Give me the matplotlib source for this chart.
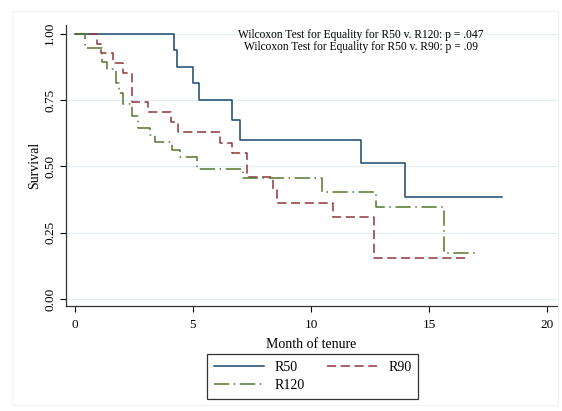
"""Kaplan-Meier survival by group (R50 / R90 / R120), Stata-like look."""
import matplotlib
matplotlib.use('Agg')
import matplotlib.pyplot as plt
from matplotlib.patches import Rectangle

# step functions: times where survival drops, and the new level
r50_t = [0, 4.21, 4.31, 5.01, 5.27, 6.65, 7.0, 12.1, 14.0, 18.09]
r50_s = [1.0, 0.9375, 0.875, 0.8125, 0.75, 0.675, 0.60, 0.514, 0.386, 0.386]

r90_t = [0, 0.92, 1.10, 1.62, 2.04, 2.40, 3.08, 4.07, 4.38, 6.14, 6.64, 7.30,
         8.40, 8.57, 10.94, 12.67, 16.70]
r90_s = [1.0, 0.963, 0.926, 0.889, 0.852, 0.741, 0.704, 0.667, 0.630, 0.589,
         0.551, 0.459, 0.41, 0.364, 0.310, 0.156, 0.156]

r120_t = [0, 0.42, 1.15, 1.35, 1.75, 1.85, 2.05, 2.40, 2.66, 3.20, 3.39, 4.10,
          4.45, 5.15, 7.13, 10.45, 12.74, 15.65, 16.95]
r120_s = [1.0, 0.947, 0.895, 0.868, 0.816, 0.775, 0.737, 0.690, 0.643, 0.618,
          0.593, 0.562, 0.536, 0.489, 0.455, 0.405, 0.348, 0.175, 0.175]

x_ticks = [0, 5, 10, 15, 20]
y_ticks = [0.0, 0.25, 0.50, 0.75, 1.0]
y_ticklabels = ['0.00', '0.25', '0.50', '0.75', '1.00']

notes = ['Wilcoxon Test for Equality for R50 v. R120: p = .047',
         'Wilcoxon Test for Equality for R50 v. R90: p = .09']

plt.rcParams['font.family'] = ['Liberation Serif', 'DejaVu Serif']

fig = plt.figure(figsize=(5.62, 4.11), dpi=100)
ax = fig.add_axes([0.1174, 0.2555, 0.8737, 0.6837])

# faint outer graph-region border
fig.patches.append(Rectangle((12 / 562, 6 / 411), 546 / 562, 394 / 411,
                             transform=fig.transFigure, fill=False,
                             edgecolor='#eef3f4', linewidth=0.8))

for y in y_ticks:
    ax.axhline(y, color='#e4eef1', linewidth=0.9, zorder=0)

l50, = ax.step(r50_t, r50_s, where='post', color='#1a476f', linewidth=1.1,
               label='R50')
l90, = ax.step(r90_t, r90_s, where='post', color='#90353b', linewidth=1.1,
               dashes=(6, 3), label='R90')
l120, = ax.step(r120_t, r120_s, where='post', color='#55752f', linewidth=1.1,
                dashes=(10, 3, 1, 3), label='R120')

ax.set_xlim(-0.38, 20.42)
ax.set_ylim(-0.026, 1.033)
ax.set_xticks(x_ticks)
ax.set_yticks(y_ticks)
ax.set_yticklabels(y_ticklabels, rotation=90, va='center')
ax.tick_params(labelsize=9.5, length=4, width=0.8, color='black')
ax.tick_params(axis='y', pad=3)
ax.tick_params(axis='x', pad=5.5)

for side in ['top', 'right']:
    ax.spines[side].set_visible(False)
for side in ['left', 'bottom']:
    ax.spines[side].set_linewidth(0.9)
    ax.spines[side].set_color('#333333')

ax.set_xlabel('Month of tenure', fontsize=10, labelpad=5)
ax.set_ylabel('Survival', fontsize=10, labelpad=2)

ax.text(12.1, 0.995, notes[0], fontsize=8.3, ha='center', va='center')
ax.text(12.1, 0.950, notes[1], fontsize=8.3, ha='center', va='center')

leg = fig.legend(handles=[l50, l120, l90], ncol=2, loc='center',
                 bbox_to_anchor=(312.5 / 562, 1 - 376.5 / 411), fontsize=10,
                 frameon=True, fancybox=False, handlelength=3.6,
                 handletextpad=0.8, columnspacing=1.6, borderpad=0.5,
                 labelspacing=0.4, borderaxespad=0)
leg.get_frame().set_edgecolor('black')
leg.get_frame().set_linewidth(0.9)

fig.savefig('out.png', dpi=100)
